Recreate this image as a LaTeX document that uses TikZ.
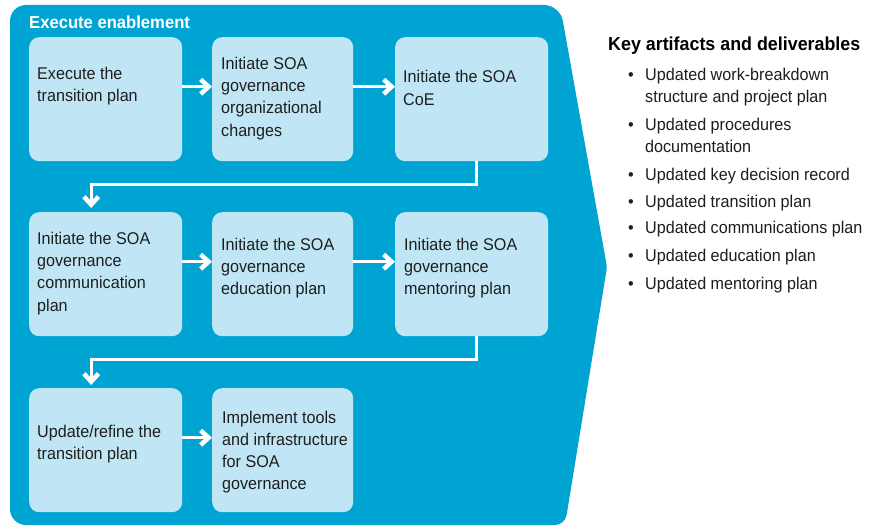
\documentclass[tikz,border=0pt]{standalone}
\usepackage{fontspec}
\setmainfont{Liberation Sans}[FakeStretch=0.95]
\usepackage{tikz}
\usetikzlibrary{arrows.meta}
\tikzset{flow/.style = {-{Straight Barb[length=8pt,width=14.5pt,line width=4.5pt,sharp]}}}
\definecolor{ablue}{RGB}{0,164,210}
\definecolor{lblue}{RGB}{192,230,245}
\definecolor{ink}{RGB}{30,30,30}
\tikzset{stepbox/.style = {fill=lblue, rounded corners=10pt, anchor=north west,
                           inner sep=0pt, minimum height=124pt},
         boxtext/.style = {anchor=north west, inner sep=0pt, align=left, text=ink,
                           font=\fontsize{17}{22.3}\selectfont},
         link/.style = {white, line width=3pt}}

\begin{document}
\begin{tikzpicture}[x=1pt, y=-1pt]
    \useasboundingbox (0, 0) rectangle (882, 527);
    \fill [white] (0, 0) rectangle (882, 527);

    % phase shape
    \fill [ablue] [rounded corners=16pt] (10, 265) -- (10, 5) -- (560, 5)
          [rounded corners=3pt] -- (607, 267) [rounded corners=10pt] -- (565, 525)
          [rounded corners=16pt] -- (10, 525) -- cycle;
    \node [anchor=base west, inner sep=0pt, white, font=\bfseries\fontsize{17.5}{20}\selectfont]
          (phase) at (29, 29) {Execute enablement};

    % steps
    \node [stepbox, minimum width=153pt] (b1) at (29, 37) {};
    \node [stepbox, minimum width=141pt] (b2) at (212, 37) {};
    \node [stepbox, minimum width=153pt] (b3) at (395, 37) {};
    \node [stepbox, minimum width=153pt] (b4) at (29, 212) {};
    \node [stepbox, minimum width=141pt] (b5) at (212, 212) {};
    \node [stepbox, minimum width=153pt] (b6) at (395, 212) {};
    \node [stepbox, minimum width=153pt] (b7) at (29, 388) {};
    \node [stepbox, minimum width=141pt] (b8) at (212, 388) {};

    \node [boxtext] (t1) at (37, 66.8) {Execute the\\transition plan};
    \node [boxtext] (t2) at (221, 56.8) {Initiate SOA\\governance\\organizational\\changes};
    \node [boxtext] (t3) at (403, 70.3) {Initiate the SOA\\CoE};
    \node [boxtext] (t4) at (37, 231.8) {Initiate the SOA\\governance\\communication\\plan};
    \node [boxtext] (t5) at (221, 237.8) {Initiate the SOA\\governance\\education plan};
    \node [boxtext] (t6) at (404, 237.8) {Initiate the SOA\\governance\\mentoring plan};
    \node [boxtext] (t7) at (37, 424.8) {Update/refine the\\transition plan};
    \node [boxtext] (t8) at (222, 410.5) {Implement tools\\and infrastructure\\for SOA\\governance};

    % connectors
    \draw [link, flow] ([yshift=12.5pt]b1.east) -- ([yshift=12.5pt]b2.west);
    \draw [link, flow] ([yshift=12.5pt]b2.east) -- ([yshift=12.5pt]b3.west);
    \draw [link, flow] ([xshift=4.5pt]b3.south) -- ++(0, 23) -| ([shift={(-14.5pt,4pt)}]b4.north);
    \draw [link, flow] ([yshift=12.5pt]b4.east) -- ([yshift=12.5pt]b5.west);
    \draw [link, flow] ([yshift=12.5pt]b5.east) -- ([yshift=12.5pt]b6.west);
    \draw [link, flow] ([xshift=4.5pt]b6.south) -- ++(0, 23) -| ([shift={(-14.5pt,3pt)}]b7.north);
    \draw [link, flow] ([yshift=12.5pt]b7.east) -- ([yshift=12.5pt]b8.west);

    % deliverables
    \node [anchor=base west, inner sep=0pt, text=black, font=\bfseries\fontsize{18.8}{22}\selectfont]
          (keyhead) at (608, 50.7) {Key artifacts and deliverables};
    \foreach \n/\y/\txt in {1/80/{Updated work-breakdown\\structure and project plan},
                            2/130/{Updated procedures\\documentation},
                            3/180/{Updated key decision record},
                            4/207/{Updated transition plan},
                            5/233.5/{Updated communications plan},
                            6/261.5/{Updated education plan},
                            7/289/{Updated mentoring plan}}
    {
      \node [anchor=base, inner sep=0pt, text=ink, font=\fontsize{17}{22.3}\selectfont]
            (dot\n) at (631, \y) {\textbullet};
      \node [boxtext] (item\n) at (645, \y - 12.2) {\txt};
    }
\end{tikzpicture}
\end{document}
